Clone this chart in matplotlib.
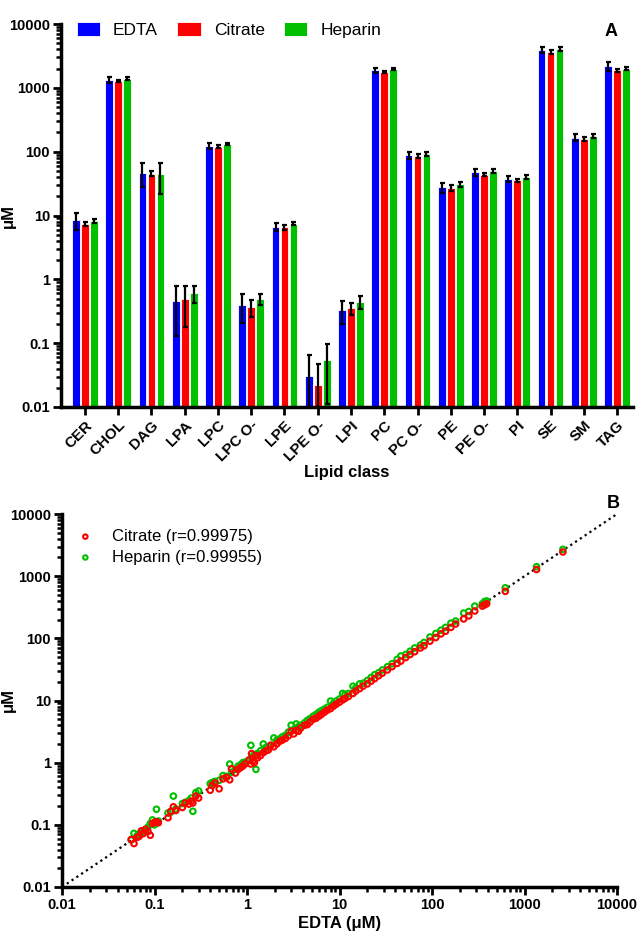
import numpy as np
import matplotlib
matplotlib.use("Agg")
import matplotlib.pyplot as plt
from matplotlib.ticker import LogLocator, NullFormatter

plt.rcParams['font.family'] = ['Liberation Sans', 'DejaVu Sans']

# Panel A: lipid class means (uM) and error bars
classes = ["CER", "CHOL", "DAG", "LPA", "LPC", "LPC O-", "LPE", "LPE O-", "LPI",
           "PC", "PC O-", "PE", "PE O-", "PI", "SE", "SM", "TAG"]
edta = [8.5, 1330, 47, 0.46, 123, 0.40, 6.7, 0.031, 0.33, 1870, 88, 27.7, 48, 37, 3950, 166, 2210]
citrate = [7.4, 1270, 45, 0.49, 120, 0.37, 6.5, 0.022, 0.35, 1750, 86, 26.8, 43.5, 35.4, 3650, 159, 1900]
heparin = [8.2, 1400, 44, 0.61, 130, 0.49, 7.4, 0.054, 0.445, 1970, 93, 31, 50, 40, 4100, 176, 2000]
edta_err = [2.5, 150, 19, 0.33, 12, 0.19, 1.0, 0.034, 0.13, 150, 10, 5, 6, 4, 400, 20, 350]
citrate_err = [0.5, 50, 4, 0.31, 6, 0.11, 0.5, 0.025, 0.07, 60, 5, 3, 2.5, 2.5, 250, 10, 100]
heparin_err = [0.6, 90, 22, 0.19, 5, 0.1, 0.4, 0.043, 0.1, 80, 6, 3, 3, 2.5, 300, 10, 100]

# Panel B: individual species, EDTA vs citrate / heparin (uM)
edta_pts = [0.056, 0.060, 0.065, 0.068, 0.072, 0.075, 0.080, 0.085, 0.090, 0.095,
            0.100, 0.105, 0.110, 0.140, 0.150, 0.160, 0.170, 0.200, 0.215, 0.235,
            0.250, 0.260, 0.280, 0.300, 0.40, 0.42, 0.45, 0.50, 0.55, 0.60,
            0.65, 0.68, 0.75, 0.80, 0.85, 0.90, 0.95, 1.05, 1.10, 1.12,
            1.15, 1.20, 1.25, 1.30, 1.40, 1.50, 1.60, 1.70, 1.80, 1.95,
            2.10, 2.25, 2.40, 2.60, 2.80, 3.00, 3.20, 3.40, 3.60, 3.80,
            4.20, 4.50, 4.80, 5.20, 5.60, 6.00, 6.40, 6.90, 7.40, 8.00,
            8.60, 9.20, 10.0, 10.8, 11.5, 12.5, 14.0, 15.0, 16.5, 18.0,
            20.0, 22.0, 24.0, 26.5, 29.0, 33.0, 37.0, 42.0, 46.0, 52.0,
            58.0, 65.0, 75.0, 82.0, 95.0, 110, 125, 140, 160, 180,
            220, 250, 290, 350, 370, 390, 620, 1350, 2600]
citrate_pts = [0.058, 0.050, 0.063, 0.065, 0.080, 0.072, 0.085, 0.078, 0.068, 0.105,
               0.110, 0.112, 0.108, 0.130, 0.165, 0.195, 0.170, 0.190, 0.225, 0.215,
               0.240, 0.225, 0.290, 0.270, 0.36, 0.43, 0.47, 0.38, 0.55, 0.58,
               0.53, 0.80, 0.68, 0.78, 0.83, 0.88, 0.95, 1.10, 0.95, 1.40,
               1.05, 1.00, 1.30, 1.20, 1.30, 1.45, 1.55, 1.60, 1.90, 1.80,
               2.00, 2.20, 2.30, 2.45, 2.70, 3.20, 2.90, 3.30, 3.20, 3.60,
               4.00, 4.10, 4.50, 5.00, 5.20, 5.60, 6.00, 6.50, 7.00, 7.40,
               8.10, 8.70, 9.40, 10.2, 10.8, 11.6, 13.0, 14.2, 15.5, 17.0,
               18.5, 20.5, 22.5, 25.0, 27.5, 31.0, 35.0, 39.5, 43.0, 49.0,
               55.0, 61.0, 70.0, 76.0, 90.0, 103, 118, 130, 150, 170,
               205, 230, 275, 330, 345, 360, 570, 1280, 2450]
heparin_pts = [0.057, 0.073, 0.067, 0.070, 0.072, 0.078, 0.082, 0.092, 0.105, 0.120,
               0.100, 0.178, 0.115, 0.155, 0.160, 0.290, 0.180, 0.220, 0.230, 0.245,
               0.270, 0.165, 0.330, 0.350, 0.46, 0.48, 0.50, 0.52, 0.62, 0.60,
               0.95, 0.70, 0.78, 0.88, 0.92, 1.00, 1.02, 1.10, 1.90, 1.20,
               1.25, 1.35, 0.78, 1.40, 1.55, 2.00, 1.75, 1.80, 1.90, 2.50,
               2.30, 2.40, 2.60, 2.75, 3.10, 4.00, 3.40, 4.20, 3.80, 4.00,
               4.40, 4.80, 5.10, 5.60, 6.00, 6.50, 6.90, 7.30, 7.80, 9.80,
               9.00, 9.80, 10.6, 13.0, 12.5, 13.0, 17.0, 16.0, 18.5, 19.0,
               21.0, 23.5, 26.0, 28.0, 31.0, 35.0, 39.0, 46.0, 52.0, 55.0,
               62.0, 70.0, 78.0, 86.0, 105, 120, 135, 150, 175, 190,
               255, 270, 330, 360, 390, 400, 650, 1420, 2700]

blue = "#0000FF"
red = "#FF0000"
green = "#00C000"
W, H = 638, 933
fig = plt.figure(figsize=(W / 100, H / 100), dpi=100)


def style_axis(ax):
    for s in ["top", "right"]:
        ax.spines[s].set_visible(False)
    for s in ["left", "bottom"]:
        ax.spines[s].set_linewidth(2.5)
    ax.tick_params(which="major", direction="out", length=6, width=2, labelsize=10.5, pad=2)
    ax.tick_params(which="minor", direction="out", length=3.5, width=1.8)
    for lab in ax.get_xticklabels() + ax.get_yticklabels():
        lab.set_fontweight("bold")


# ---- Panel A ----
axA = fig.add_axes([61 / W, 1 - 407 / H, (633 - 61) / W, (407 - 24) / H])
x = np.arange(len(classes))
bw = 0.23
off = 0.27
for vals, errs, col, lab, d in [(edta, edta_err, blue, "EDTA", -off),
                                (citrate, citrate_err, red, "Citrate", 0),
                                (heparin, heparin_err, green, "Heparin", off)]:
    vals = np.array(vals)
    errs = np.array(errs)
    lower = np.minimum(errs, vals - 0.005)
    axA.bar(x + d, vals, bw, color=col, edgecolor="white", linewidth=0.6, label=lab, zorder=2)
    axA.errorbar(x + d, vals, yerr=[lower, errs], fmt="none", ecolor="black",
                 elinewidth=1.6, capsize=1.8, capthick=1.6, zorder=3)
axA.set_yscale("log")
axA.set_ylim(0.01, 10000)
axA.set_xlim(-0.72, len(classes) - 1 + 0.48)
axA.set_yticks([0.01, 0.1, 1, 10, 100, 1000, 10000])
axA.set_yticklabels(["0.01", "0.1", "1", "10", "100", "1000", "10000"])
axA.yaxis.set_minor_locator(LogLocator(base=10, subs=np.arange(2, 10)))
axA.yaxis.set_minor_formatter(NullFormatter())
axA.set_xticks(x)
axA.set_xticklabels(classes, rotation=45, ha="right", rotation_mode="anchor")
style_axis(axA)
axA.tick_params(axis="x", labelsize=11)
axA.set_ylabel("μM", fontsize=12, fontweight="bold")
axA.yaxis.set_label_coords((16 - 61) / 572, 0.5)
axA.set_xlabel("Lipid class", fontsize=12, fontweight="bold", labelpad=0)
axA.legend(loc="upper left", bbox_to_anchor=(0.0, 1.045), ncol=3, frameon=False,
           fontsize=12.5, handlelength=1.35, handleheight=0.85, columnspacing=1.1,
           handletextpad=0.75)
fig.text(611 / W, 1 - 32 / H, "A", fontsize=13, fontweight="bold", ha="center", va="center")

# ---- Panel B ----
axB = fig.add_axes([62 / W, 1 - 887 / H, (617 - 62) / W, (887 - 514) / H])
axB.plot([0.01, 10000], [0.01, 10000], linestyle=(0, (1, 1.6)), color="black", linewidth=1.6, zorder=1)
axB.scatter(edta_pts, heparin_pts, s=16, facecolors="none", edgecolors=green, linewidths=1.5,
            label="Heparin (r=0.99955)", zorder=2)
axB.scatter(edta_pts, citrate_pts, s=16, facecolors="none", edgecolors=red, linewidths=1.5,
            label="Citrate (r=0.99975)", zorder=3)
axB.set_xscale("log")
axB.set_yscale("log")
axB.set_xlim(0.01, 10000)
axB.set_ylim(0.01, 10000)
ticks = [0.01, 0.1, 1, 10, 100, 1000, 10000]
labs = ["0.01", "0.1", "1", "10", "100", "1000", "10000"]
axB.set_xticks(ticks)
axB.set_xticklabels(labs)
axB.set_yticks(ticks)
axB.set_yticklabels(labs)
for a in [axB.xaxis, axB.yaxis]:
    a.set_minor_locator(LogLocator(base=10, subs=np.arange(2, 10)))
    a.set_minor_formatter(NullFormatter())
style_axis(axB)
axB.set_ylabel("μM", fontsize=12, fontweight="bold")
axB.yaxis.set_label_coords((16 - 62) / 555, 0.5)
axB.set_xlabel("EDTA (μM)", fontsize=12, fontweight="bold", labelpad=3)
h, l = axB.get_legend_handles_labels()
axB.legend(h[::-1], l[::-1], loc="upper left", bbox_to_anchor=(-0.015, 1.0), frameon=False,
           fontsize=12, markerscale=0.8, handletextpad=0.6, labelspacing=0.35)
fig.text(613 / W, 1 - 503 / H, "B", fontsize=13, fontweight="bold", ha="center", va="center")

fig.savefig("out.png", dpi=100)
